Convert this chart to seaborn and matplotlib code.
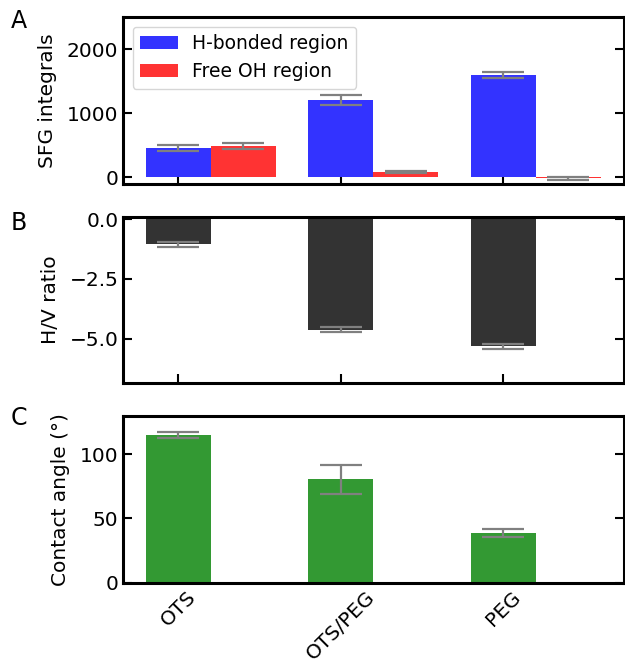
import numpy as np
import pandas as pd
import matplotlib
matplotlib.use("Agg")
import matplotlib.pyplot as plt
import seaborn as sns

# values
samples = ["OTS", "OTS/PEG", "PEG"]
regions = ["H-bonded region", "Free OH region"]
hbond = [455, 1210, 1600]
hbond_err = [50, 80, 50]
freeoh = [490, 85, -15]
freeoh_err = [40, 22, 20]
hv_ratio = [-1.05, -4.63, -5.33]
hv_err = [0.1, 0.1, 0.1]
contact = [115, 80.5, 38.5]
contact_err = [2.5, 11, 3]

sns.set_style("ticks", rc={"axes.edgecolor": "black", "text.color": "black",
                           "axes.labelcolor": "black", "xtick.color": "black",
                           "ytick.color": "black"})
plt.rcParams["font.family"] = ["DejaVu Sans"]

FS = 14.5
GRAY = "gray"
LPAD = 7

df_sfg = pd.DataFrame({
    "sample": samples * 2,
    "region": [regions[0]] * 3 + [regions[1]] * 3,
    "value": hbond + freeoh,
    "err": hbond_err + freeoh_err,
})
df_hv = pd.DataFrame({"sample": samples, "value": hv_ratio, "err": hv_err})
df_ca = pd.DataFrame({"sample": samples, "value": contact, "err": contact_err})

fig, axes = plt.subplots(3, 1, figsize=(6.25, 6.62), dpi=100)
fig.subplots_adjust(left=0.197, right=0.9976, top=0.974, bottom=0.12, hspace=0.197)


def add_errors(ax, errs):
    # error bars centred on the tips of the bars seaborn drew
    for cont, err in zip(ax.containers, errs):
        xs = [b.get_x() + b.get_width() / 2 for b in cont]
        ys = [b.get_y() + b.get_height() for b in cont]
        ax.errorbar(xs, ys, yerr=err, fmt="none", ecolor=GRAY,
                    elinewidth=1.6, capsize=15, capthick=1.6, zorder=3)


def style_ax(ax):
    ax.tick_params(direction="in", length=6.5, width=1.5, right=True,
                   top=False, labelsize=FS, colors="black")
    for s in ax.spines.values():
        s.set_linewidth(2.2)
        s.set_color("black")
        s.set_visible(True)


# A: SFG integrals
ax = axes[0]
sns.barplot(data=df_sfg, x="sample", y="value", hue="region", ax=ax,
            palette={regions[0]: "#3333ff", regions[1]: "#ff3333"},
            saturation=1, width=0.8, errorbar=None, linewidth=0)
add_errors(ax, [hbond_err, freeoh_err])
blue_x = [b.get_x() + b.get_width() / 2 for b in ax.containers[0]]
ax.set_xticks(blue_x)
ax.set_xticklabels([])
ax.set_xlim(blue_x[0] - 0.34, blue_x[0] + 2.74)
ax.set_ylim(-100, 2500)
ax.set_yticks([0, 1000, 2000])
ax.set_xlabel("")
ax.set_ylabel("SFG integrals", fontsize=FS, labelpad=LPAD)
ax.legend(loc="upper left", fontsize=13.5)
style_ax(ax)

# B: H/V ratio
ax = axes[1]
sns.barplot(data=df_hv, x="sample", y="value", ax=ax, color="#333333",
            saturation=1, width=0.4, errorbar=None, linewidth=0)
add_errors(ax, [hv_err])
ax.set_xticks(range(len(samples)))
ax.set_xticklabels([])
ax.set_xlim(-0.34, 2.74)
ax.set_ylim(-6.87, 0.11)
ax.set_yticks([0, -2.5, -5.0])
ax.set_xlabel("")
ax.set_ylabel("H/V ratio", fontsize=FS, labelpad=LPAD)
style_ax(ax)

# C: contact angle
ax = axes[2]
sns.barplot(data=df_ca, x="sample", y="value", ax=ax, color="#339933",
            saturation=1, width=0.4, errorbar=None, linewidth=0)
add_errors(ax, [contact_err])
ax.set_xticks(range(len(samples)))
ax.set_xticklabels(samples, rotation=45, ha="center")
ax.set_xlim(-0.34, 2.74)
ax.set_ylim(0, 130)
ax.set_yticks([0, 50, 100])
ax.set_xlabel("")
ax.set_ylabel("Contact angle (°)", fontsize=FS, labelpad=LPAD)
style_ax(ax)

for letter, (x, y) in zip("ABC", [(19, 20.5), (19, 223), (19, 418)]):
    fig.text(x / 625, 1 - y / 662, letter, fontsize=17, ha="center", va="center")

fig.savefig("out.png", dpi=100)
